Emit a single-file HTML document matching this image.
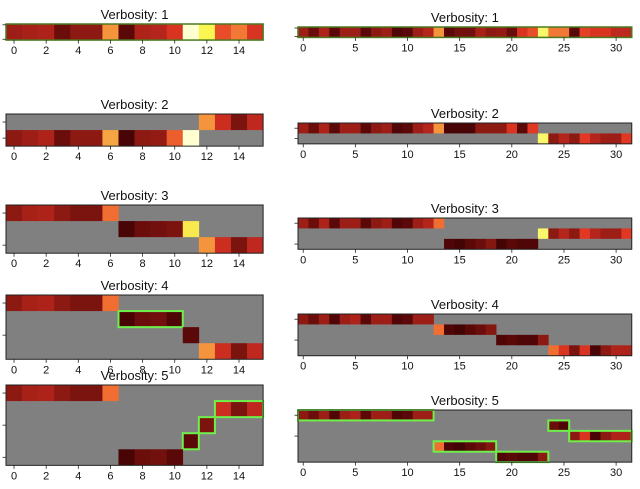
<!DOCTYPE html>
<html><head><meta charset="utf-8"><style>
html,body{margin:0;padding:0;background:#fff;width:640px;height:489px;overflow:hidden}
svg{display:block}
text{font-family:"Liberation Sans","DejaVu Sans",sans-serif;fill:#111}
</style></head><body>
<svg id="fig" width="640" height="489" viewBox="0 0 640 489" xmlns="http://www.w3.org/2000/svg"></svg>
<script>
// ---- data: segments [row, startCol, values, boxed]
const leftV1 = [[0,0,[0.35,0.38,0.4,0.2,0.3,0.3,0.75,0.15,0.4,0.42,0.55,1.0,0.9,0.62,0.7,0.55],0]];
const leftV2 = [[0,12,[0.75,0.5,0.25,0.45],0],[1,0,[0.3,0.35,0.4,0.2,0.3,0.3,0.78,0.1,0.3,0.32,0.65,1.0],0]];
const leftV3 = [[0,0,[0.3,0.38,0.4,0.3,0.25,0.25,0.68],0],[1,7,[0.1,0.2,0.22,0.25,0.88],0],[2,12,[0.75,0.5,0.25,0.45],0]];
const leftV4 = [[0,0,[0.3,0.38,0.4,0.3,0.25,0.25,0.68],0],[1,7,[0.1,0.2,0.22,0.12],1],[2,11,[0.15],0],[3,12,[0.75,0.5,0.25,0.45],0]];
const leftV5 = [[0,0,[0.3,0.38,0.4,0.3,0.25,0.25,0.68],0],[1,13,[0.5,0.25,0.45],1],[2,12,[0.25],1],[3,11,[0.15],1],[4,7,[0.1,0.2,0.22,0.15],0]];
const rightV1 = [[0,0,[0.35,0.2,0.4,0.15,0.35,0.35,0.15,0.3,0.35,0.12,0.15,0.35,0.42,0.75,0.15,0.22,0.22,0.38,0.3,0.32,0.2,0.55,0.62,0.92,0.7,0.7,0.15,0.6,0.55,0.55,0.45,0.45],0]];
const rightV2 = [[0,0,[0.35,0.2,0.4,0.15,0.35,0.35,0.15,0.3,0.35,0.12,0.15,0.35,0.42,0.75,0.1,0.1,0.1,0.3,0.3,0.3,0.55,0.15,0.58],0],[1,23,[0.92,0.3,0.42,0.3,0.58,0.42,0.35,0.35,0.58],0]];
const rightV3 = [[0,0,[0.35,0.2,0.4,0.15,0.35,0.35,0.15,0.3,0.35,0.12,0.15,0.35,0.42,0.68],0],[1,23,[0.92,0.3,0.42,0.3,0.58,0.42,0.35,0.35,0.58],0],[2,14,[0.12,0.08,0.15,0.2,0.28,0.08,0.15,0.12,0.12],0]];
const rightV4 = [[0,0,[0.3,0.2,0.35,0.12,0.35,0.4,0.15,0.35,0.35,0.12,0.15,0.35,0.35],0],[1,13,[0.68,0.12,0.08,0.15,0.2,0.28],0],[2,19,[0.12,0.15,0.12,0.12,0.3],0],[3,24,[0.68,0.55,0.25,0.55,0.1,0.3,0.4,0.4],0]];
const rightV5 = [[0,0,[0.3,0.2,0.35,0.12,0.35,0.4,0.15,0.35,0.35,0.12,0.15,0.35,0.35],1],[1,24,[0.2,0.12],1],[2,26,[0.3,0.55,0.1,0.3,0.4,0.4],1],[3,13,[0.68,0.12,0.08,0.15,0.2,0.28],1],[4,19,[0.12,0.15,0.12,0.12,0.3],1]];
const leftTicks = [0,2,4,6,8,10,12,14];
const rightTicks = [0,5,10,15,20,25,30];
const titles = ["Verbosity: 1","Verbosity: 2","Verbosity: 3","Verbosity: 4","Verbosity: 5"];

// ---- layout
const NS="http://www.w3.org/2000/svg";
const fig=document.getElementById('fig');
const stops=[[0,[40,0,0]],[0.15,[90,8,8]],[0.3,[140,25,18]],[0.45,[190,40,30]],[0.58,[225,55,35]],[0.68,[240,110,50]],[0.78,[245,165,65]],[0.9,[250,245,80]],[1,[255,255,210]]];
function cmap(v){for(let i=1;i<stops.length;i++){if(v<=stops[i][0]){const a=stops[i-1],b=stops[i];const t=(v-a[0])/(b[0]-a[0]);const c=a[1].map((x,k)=>Math.round(x+(b[1][k]-x)*t));return `rgb(${c})`;}}return 'rgb(255,255,210)';}
function el(tag,attrs,parent){const e=document.createElementNS(NS,tag);for(const k in attrs)e.setAttribute(k,attrs[k]);(parent||fig).appendChild(e);return e;}

function panel(name,data,nCols,nRows,x0,y0,cell,ticks,title,yTicks,border){
  const g=el('g',{});
  
  
  const xs=c=>x0+(c+0.5)*cell; // center of column c
  const ys=r=>y0+(r+0.5)*cell;
  const W=nCols*cell,H=nRows*cell;
  const bg=el('rect',{x:x0,y:y0,width:W,height:H,fill:'#808080'},g);
  
  
  data.forEach(seg=>{
    const [r,s,vals,box]=seg;
    vals.forEach((v,i)=>{
      const c=el('rect',{x:(xs(s+i)-cell/2).toFixed(2),y:(ys(r)-cell/2).toFixed(2),width:(cell+0.3).toFixed(2),height:cell.toFixed(2),fill:cmap(v)},g);
      
      
    });
    if(box){
      const b=el('rect',{x:(xs(s)-cell/2).toFixed(2),y:(ys(r)-cell/2).toFixed(2),width:(vals.length*cell).toFixed(2),height:cell.toFixed(2),fill:'none',stroke:'#6ef04a','stroke-width':2},g);
      
      
    }
  });
  const fr=el('rect',{x:x0,y:y0,width:W,height:H,fill:'none',stroke:border||'#222','stroke-width':border?1.5:1},g);
  
  
  ticks.forEach(t=>{
    el('line',{x1:xs(t),x2:xs(t),y1:y0+H,y2:y0+H+3.5,stroke:'#222','stroke-width':0.8},g);
    const tx=el('text',{x:xs(t),y:y0+H+14,'font-size':11,'text-anchor':'middle'},g);
    tx.textContent=t;
    
    
  });
  yTicks.forEach(r=>{
    el('line',{x1:x0-3.5,x2:x0,y1:ys(r),y2:ys(r),stroke:'#222','stroke-width':0.8},g);
  });
  const tt=el('text',{x:x0+W/2,y:y0-5,'font-size':13,'text-anchor':'middle'},g);
  tt.textContent=title;
  
  
}
const LC=16.07, RC=10.43;
panel('left-verbosity-1',leftV1,16,1,6,24,LC,leftTicks,titles[0],[-0.45,0.45],'#4a7a20');
panel('left-verbosity-2',leftV2,16,2,6,114,LC,leftTicks,titles[1],[0,1]);
panel('left-verbosity-3',leftV3,16,3,6,205,LC,leftTicks,titles[2],[0,2]);
panel('left-verbosity-4',leftV4,16,4,6,295,LC,leftTicks,titles[3],[0,2]);
panel('left-verbosity-5',leftV5,16,5,6,385,LC,leftTicks,titles[4],[0,2,4]);
panel('right-verbosity-1',rightV1,32,1,298,27,RC,rightTicks,titles[0],[-0.4,0.4],'#4a7a20');
panel('right-verbosity-2',rightV2,32,2,298,123,RC,rightTicks,titles[1],[0,1]);
panel('right-verbosity-3',rightV3,32,3,298,218,RC,rightTicks,titles[2],[0,2]);
panel('right-verbosity-4',rightV4,32,4,298,314,RC,rightTicks,titles[3],[0,2]);
panel('right-verbosity-5',rightV5,32,5,298,410,RC,rightTicks,titles[4],[0,2]);
</script>
</body></html>
